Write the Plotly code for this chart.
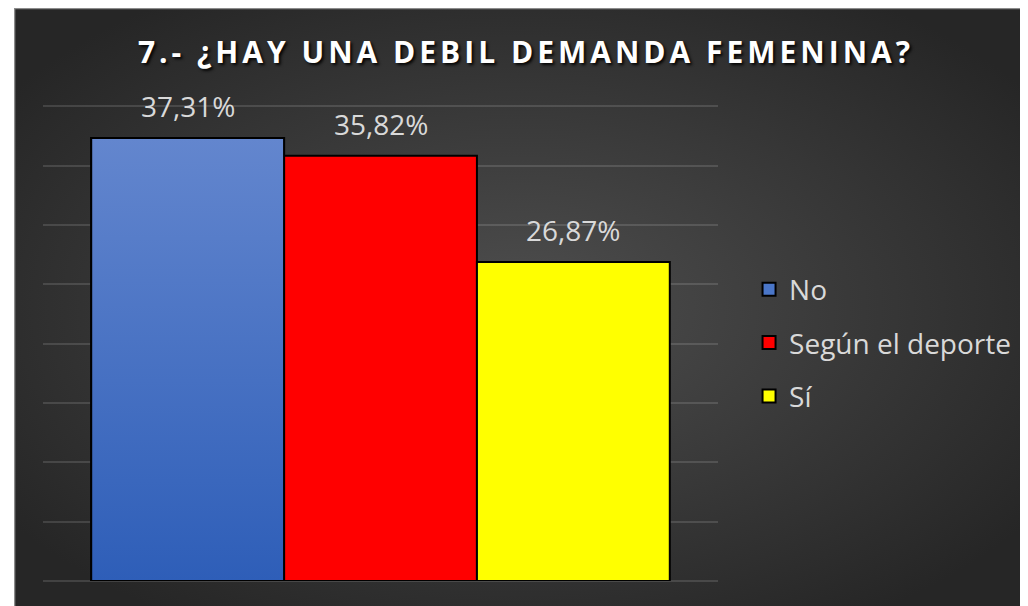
import base64
import plotly.graph_objects as go

categories = ["No", "Según el deporte", "Sí"]
values = [37.31, 35.82, 26.87]
labels = ["37,31%", "35,82%", "26,87%"]
colors = ["#4A76C8", "#FF0000", "#FFFF00"]
title_text = "7.- ¿HAY UNA DEBIL DEMANDA FEMENINA?"

W, H = 1020, 598
ml, mr, mt, mb = 35, 308, 97, 25
pw, ph = W - ml - mr, H - mt - mb

fig = go.Figure()
for i, (c, v, col) in enumerate(zip(categories, values, colors)):
    fig.add_trace(go.Bar(
        x=[i], y=[v], width=1, name=c, showlegend=False,
        marker=dict(color=col, line=dict(color="black", width=2)),
        hoverinfo="skip",
    ))

# gradient overlay for the blue bar, built from its value
v0 = values[0]
fig.add_trace(go.Scatter(
    x=[-0.5, 0.5, 0.5, -0.5, -0.5], y=[0, 0, v0, v0, 0],
    mode="lines", fill="toself",
    fillgradient=dict(type="vertical", colorscale=[[0, "#2E5EB8"], [1, "#6386CE"]]),
    line=dict(color="black", width=2),
    showlegend=False, hoverinfo="skip",
))

# legend entries with square swatches
for c, col in zip(categories, colors):
    fig.add_trace(go.Scatter(
        x=[None], y=[None], mode="markers", name=c, legendgroup=c,
        marker=dict(symbol="square", size=13, color=col, line=dict(color="black", width=2)),
    ))

for i, (v, t) in enumerate(zip(values, labels)):
    fig.add_annotation(x=i, y=v, text=t, showarrow=False, yanchor="bottom",
                       yshift=11, font=dict(family="Open Sans", size=28, color="#D9D9D9"))

# radial gradient background panel
bx0, by0 = 6, 0
bw, bh = W - bx0, H - by0
svg = (f'<svg xmlns="http://www.w3.org/2000/svg" width="{bw}" height="{bh}" viewBox="0 0 {bw} {bh}" '
       f'preserveAspectRatio="none"><defs><radialGradient id="g" cx="0.5" cy="0.5" r="0.62">'
       f'<stop offset="0" stop-color="#4E4E4E"/><stop offset="1" stop-color="#262626"/>'
       f'</radialGradient></defs><rect x="0" y="0" width="{bw}" height="{bh}" fill="url(#g)"/>'
       f'<line x1="0.5" y1="0" x2="0.5" y2="{bh}" stroke="#8C8C8C" stroke-width="1.5"/>'
       f'<line x1="0" y1="0.5" x2="{bw}" y2="0.5" stroke="#8C8C8C" stroke-width="1.5"/></svg>')
src = "data:image/svg+xml;base64," + base64.b64encode(svg.encode()).decode()
fig.add_layout_image(dict(
    source=src, xref="paper", yref="paper",
    x=(bx0 - ml) / pw, y=(H - mb - by0) / ph,
    sizex=bw / pw, sizey=bh / ph,
    xanchor="left", yanchor="top", sizing="stretch", layer="below",
))

fig.update_layout(
    width=W, height=H,
    margin=dict(l=ml, r=mr, t=mt, b=mb),
    paper_bgcolor="white", plot_bgcolor="rgba(0,0,0,0)",
    barmode="overlay",
    showlegend=True,
    title=dict(text='<span style="letter-spacing:4px">' + title_text + '</span>',
               x=518 / W, xanchor="center", y=1 - 44 / H, yanchor="middle",
               font=dict(family="Open Sans", size=30, color="white", weight="bold",
                         shadow="2px 2px 3px rgba(0,0,0,0.9)")),
    xaxis=dict(visible=False, range=[-0.75, 2.75], fixedrange=True),
    yaxis=dict(range=[0, 40.1], tickvals=[0, 5, 10, 15, 20, 25, 30, 35, 40],
               showticklabels=False, showgrid=True,
               gridcolor="rgba(255,255,255,0.13)", gridwidth=1.5,
               zeroline=True, zerolinecolor="rgba(255,255,255,0.13)", zerolinewidth=1.5,
               showline=False, ticks=""),
    legend=dict(x=1.046, xanchor="left", y=0.5, yanchor="middle",
                font=dict(family="Open Sans", size=28, color="#D9D9D9"),
                itemwidth=30,
                bgcolor="rgba(0,0,0,0)", traceorder="grouped", tracegroupgap=14),
)

fig.write_html("out.html")
